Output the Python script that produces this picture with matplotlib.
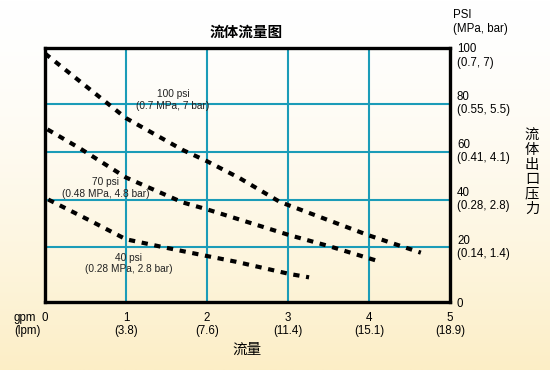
import numpy as np
import matplotlib
matplotlib.use("Agg")
import matplotlib.pyplot as plt
import matplotlib.transforms as mtrans

plt.rcParams['font.family'] = ['Liberation Sans', 'Noto Sans CJK SC', 'DejaVu Sans']

# ---- data (gpm, psi) ----
gpm_100 = [0.0, 1.0, 1.7, 2.0, 2.4, 2.9, 4.0, 4.64]
psi_100 = [101, 74, 60.7, 56, 49, 39, 25, 17.8]

gpm_70 = [0.03, 0.43, 1.0, 1.7, 2.0, 3.02, 3.51, 4.15]
psi_70 = [69.3, 61.4, 49.2, 38.8, 35.9, 25.1, 20.5, 13.9]

gpm_40 = [0.04, 0.55, 1.0, 1.46, 2.0, 2.36, 3.02, 3.26]
psi_40 = [40.0, 31.3, 23.4, 20.1, 16.4, 14.0, 8.9, 7.5]

x_ticks = [0, 1, 2, 3, 4, 5]
x_ticklabels = ["0", "1\n(3.8)", "2\n(7.6)", "3\n(11.4)", "4\n(15.1)", "5\n(18.9)"]
y_ticks = [0, 20, 40, 60, 80, 100]
y_ticklabels = ["0", "20\n(0.14, 1.4)", "40\n(0.28, 2.8)", "60\n(0.41, 4.1)",
                "80\n(0.55, 5.5)", "100\n(0.7, 7)"]

curve_labels = ["100 psi\n(0.7 MPa, 7 bar)", "70 psi\n(0.48 MPa, 4.8 bar)",
                "40 psi\n(0.28 MPa, 2.8 bar)"]
curve_label_pos = [(1.58, 81.6), (0.75, 44.8), (1.03, 13.2)]

title = "流体流量图"
xlabel = "流量"
ylabel = "流体出口压力"

W, H = 550, 370
fig = plt.figure(figsize=(W / 100, H / 100), dpi=100)

# background gradient (white top -> pale cream bottom)
bg = fig.add_axes([0, 0, 1, 1], zorder=-10)
t = np.linspace(0, 1, 256) ** 1.5
top = np.array([1.0, 1.0, 1.0])
bot = np.array([252, 238, 198]) / 255.0
grad = top[None, :] * (1 - t[:, None]) + bot[None, :] * t[:, None]
bg.imshow(grad[:, None, :], aspect='auto', extent=[0, 1, 0, 1])
bg.axis('off')

left, right_px, top_px, bottom_px = 45, 450, 48, 302
ax = fig.add_axes([left / W, 1 - bottom_px / H, (right_px - left) / W, (bottom_px - top_px) / H])
ax.set_facecolor('none')
ax.set_xlim(0, 5)
ax.set_ylim(-2.8, 103.3)

grid_c = '#1b9cb8'
for xv in x_ticks[1:-1]:
    ax.axvline(xv, color=grid_c, lw=1.5, zorder=1)
for yv in y_ticks[1:-1]:
    ax.axhline(yv, color=grid_c, lw=1.5, zorder=1)

for gx, gy in [(gpm_100, psi_100), (gpm_70, psi_70), (gpm_40, psi_40)]:
    ax.plot(gx, gy, color='black', lw=3.0, linestyle=(0, (1.5, 1.6)),
            dash_capstyle='butt', zorder=3)

for lab, (px, py) in zip(curve_labels, curve_label_pos):
    ax.text(px, py, lab, ha='center', va='center', fontsize=7.3, color='#222222',
            linespacing=1.15, zorder=4)

for s in ax.spines.values():
    s.set_linewidth(2.4)
    s.set_color('black')
    s.set_zorder(5)

ax.set_xticks(x_ticks)
ax.set_xticklabels(x_ticklabels, fontsize=8.3, linespacing=1.15)
ax.tick_params(axis='x', length=0, pad=7)

ax.yaxis.tick_right()
ax.set_yticks(y_ticks)
ax.set_yticklabels(y_ticklabels, fontsize=8.3, linespacing=1.15)
ax.tick_params(axis='y', length=0, pad=5)
for lbl in ax.get_yticklabels():
    lbl.set_verticalalignment('center')
    lbl.set_horizontalalignment('left')
# the "0" label sits at the corner of the frame
zero = ax.get_yticklabels()[0]
zero.set_transform(zero.get_transform() + mtrans.ScaledTranslation(0, -6 / 72, fig.dpi_scale_trans))

fig.text(14 / W, 1 - 311.5 / H, "gpm\n(lpm)", ha='left', va='top', fontsize=8.3, linespacing=1.15)
fig.text(453 / W, 1 - 22 / H, "PSI\n(MPa, bar)", ha='left', va='center', fontsize=8.3, linespacing=1.15)

fig.text(246 / W, 1 - 33 / H, title, ha='center', va='center', fontsize=10.5, fontweight='bold')
fig.text(247 / W, 1 - 350 / H, xlabel, ha='center', va='center', fontsize=10.5)
fig.text(532 / W, 1 - 172 / H, "\n".join(ylabel), ha='center', va='center', fontsize=10.3,
         linespacing=1.05)

fig.savefig("out.png", dpi=100)
